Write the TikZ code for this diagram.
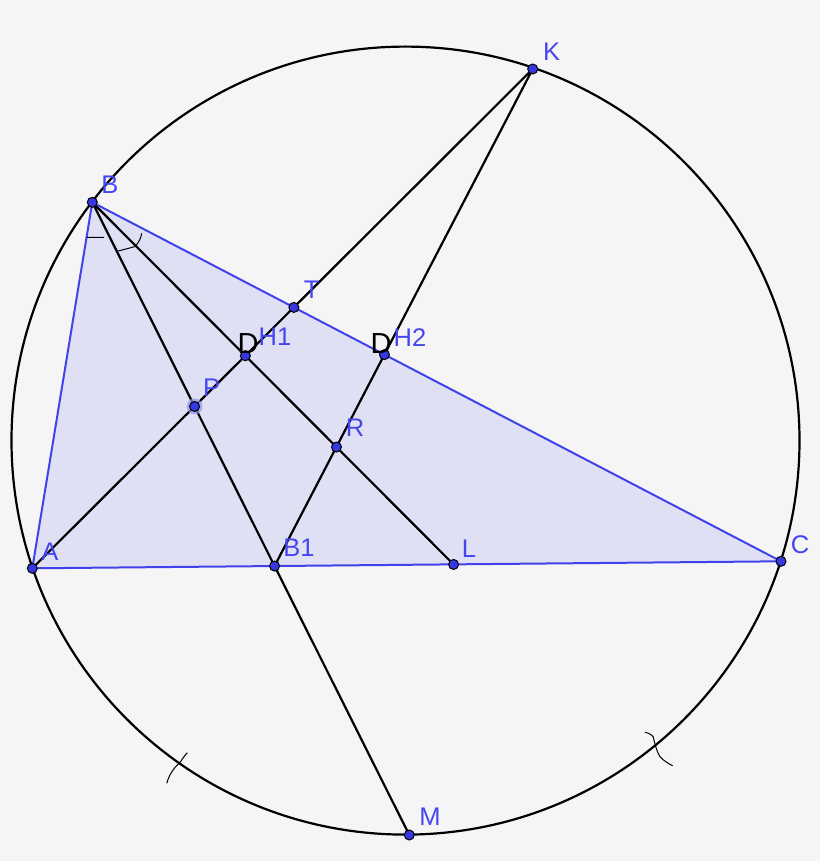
\documentclass[tikz,border=0pt]{standalone}
\usepackage{fontspec}
\setmainfont{Liberation Sans}
\usetikzlibrary{calc}
\definecolor{bg}{RGB}{245,245,245}
\definecolor{trifill}{RGB}{224,224,245}
\definecolor{triedge}{RGB}{66,66,235}
\definecolor{ptfill}{RGB}{55,55,225}
\definecolor{lbl}{RGB}{70,70,240}
\definecolor{halo}{RGB}{150,150,235}
\begin{document}
\begin{tikzpicture}[x=1pt,y=-1pt,
  geoline/.style={black,line width=2.2pt},
  triline/.style={triedge,line width=2pt},
  handmark/.style={black,line width=1pt},
  pt/.style={circle,draw=black,fill=ptfill,line width=1pt,inner sep=0pt,minimum size=10pt},
  lab/.style={text=lbl,font=\fontsize{25.5}{25.5}\selectfont,inner sep=0pt},
  dlab/.style={text=black,font=\fontsize{29}{29}\selectfont,inner sep=0pt}]
\fill[bg] (0,0) rectangle (820,861);
\useasboundingbox (0,0) rectangle (820,861);
% base points
\coordinate (O) at (405.5,440.6);
\coordinate (A) at (32.3,568.3);
\coordinate (B) at (92.3,202.3);
\coordinate (C) at (781,561.3);
\coordinate (K) at (532.7,69);
\coordinate (M) at (409.3,835);
% constructed points
\coordinate (H1) at ($(A)!(B)!(K)$);
\coordinate (L) at (intersection of B--H1 and A--C);
\coordinate (B1) at (intersection of B--M and A--C);
\coordinate (T) at (intersection of A--K and B--C);
\coordinate (P) at (intersection of A--K and B--M);
\coordinate (H2) at (intersection of K--B1 and B--C);
\coordinate (R) at (intersection of B--L and K--B1);
% triangle fill
\fill[trifill] (A) -- (B) -- (C) -- cycle;
% circle
\draw[geoline] (O) circle (394);
% lines
\draw[geoline] (A) -- (K);
\draw[geoline] (B) -- (M);
\draw[geoline] (B) -- (L);
\draw[geoline] (K) -- (B1);
% triangle edges
\draw[triline] (A) -- (B) -- (C) -- cycle;
% hand marks
\draw[handmark] (86.7,237.5) -- (104,237.3);
\draw[handmark] (118.3,251) -- (135.3,246.5) .. controls (139,242) and (141,238) .. (141.7,233.3);
\draw[handmark] (166.7,783.3) .. controls (170,772) and (176,766) .. (180,762.5) .. controls (183,758) and (185,755) .. (187.3,752.7);
\draw[handmark] (645,732.3) .. controls (649,733) and (652,735) .. (653.3,737) .. controls (655,745) and (657,752) .. (660,756.7) .. controls (664,761) and (669,764) .. (672.7,765.7);
% points
\fill[halo,opacity=0.7] (P) circle (8);
\foreach \p in {A,B,C,K,M,H1,L,B1,T,P,H2,R}
  \node[pt] (n\p) at (\p) {};
% labels
\node[lab] (lB) at (110,185) {B};
\node[lab] (lT) at (311.7,290) {T};
\node[lab] (lH1) at (275,337) {H1};
\node[lab] (lH2) at (410,338) {H2};
\node[dlab] (lD1) at (248,344) {D};
\node[dlab] (lD2) at (381,344) {D};
\node[lab] (lP) at (211.7,388) {P};
\node[lab] (lR) at (355,428) {R};
\node[lab] (lA) at (50,551.7) {A};
\node[lab] (lB1) at (299,548) {B1};
\node[lab] (lL) at (469,549) {L};
\node[lab] (lC) at (800,545) {C};
\node[lab] (lM) at (430,817) {M};
\node[lab] (lK) at (551.7,51.7) {K};
\end{tikzpicture}
\end{document}
